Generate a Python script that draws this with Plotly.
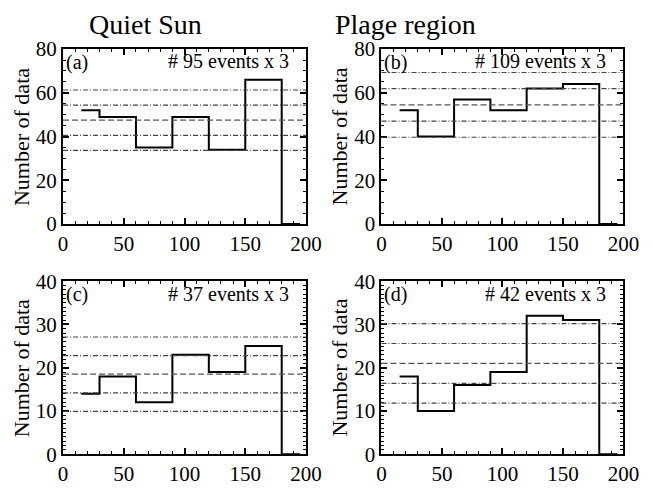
import plotly.graph_objects as go

# ---- data ----
angle_centers = [15, 45, 75, 105, 135, 165, 195]
counts_a = [52, 49, 35, 49, 34, 66, 0]
counts_b = [52, 40, 57, 52, 62, 64, 0]
counts_c = [14, 18, 12, 23, 19, 25, 0]
counts_d = [18, 10, 16, 19, 32, 31, 0]

mean_a = 47.5
sig_lines_a = [33.7, 40.6, 54.4, 61.3]
mean_b = 54.5
sig_lines_b = [39.7, 47.1, 61.9, 69.3]
mean_c = 18.5
sig_lines_c = [9.9, 14.2, 22.8, 27.1]
mean_d = 21.0
sig_lines_d = [11.8, 16.4, 25.6, 30.2]

panel_labels = ["(a)", "(b)", "(c)", "(d)"]
event_labels = ["# 95 events x 3", "# 109 events x 3", "# 37 events x 3", "# 42 events x 3"]
column_titles = ["Quiet Sun", "Plage region"]
y_title = "Number of data"

W, H = 653, 491
FONT = "Liberation Serif"

# pixel boxes (left, right, top, bottom)
boxes = [(60, 311, 39, 223), (389, 639, 39, 223), (60, 311, 283, 465), (389, 639, 283, 465)]
yranges = [80, 80, 40, 40]
ydticks = [20, 20, 10, 10]
yminor = [5, 5, 1, 1]

counts = [counts_a, counts_b, counts_c, counts_d]
means = [mean_a, mean_b, mean_c, mean_d]
sigs = [sig_lines_a, sig_lines_b, sig_lines_c, sig_lines_d]

fig = go.Figure()
layout = dict(width=W, height=H, margin=dict(l=0, r=0, t=0, b=0),
              paper_bgcolor="white", plot_bgcolor="white", showlegend=False,
              font=dict(family=FONT, color="black"))
shapes = []
annotations = []

for i in range(4):
    l, r, t, b = boxes[i]
    xn = "" if i == 0 else str(i + 1)
    xa = "xaxis" + xn
    ya = "yaxis" + xn
    layout[xa] = dict(domain=[l / W, r / W], range=[0, 200], anchor="y" + xn,
                      showgrid=False, zeroline=False, showline=True, linewidth=2,
                      linecolor="black", mirror="ticks", ticks="inside", ticklen=6,
                      tickwidth=1.5, tickcolor="black", dtick=50, tick0=0,
                      tickfont=dict(family=FONT, size=21, color="black"),
                      minor=dict(ticks="inside", ticklen=3, dtick=10, tickcolor="black", tickwidth=1),
                      fixedrange=True)
    layout[ya] = dict(domain=[1 - b / H, 1 - t / H], range=[0, yranges[i]], anchor="x" + xn,
                      showgrid=False, zeroline=False, showline=True, linewidth=2,
                      linecolor="black", mirror="ticks", ticks="inside", ticklen=6,
                      tickwidth=1.5, tickcolor="black", dtick=ydticks[i], tick0=0,
                      tickfont=dict(family=FONT, size=21, color="black"),
                      minor=dict(ticks="inside", ticklen=3, dtick=yminor[i], tickcolor="black", tickwidth=1),
                      fixedrange=True)
    # histogram
    fig.add_trace(go.Scatter(x=angle_centers, y=counts[i], mode="lines",
                             line=dict(shape="hvh", color="black", width=2),
                             xaxis="x" + xn, yaxis="y" + xn, hoverinfo="skip"))
    # mean and sigma lines
    shapes.append(dict(type="line", xref="x" + xn + " domain", yref="y" + xn,
                       x0=0, x1=1, y0=means[i], y1=means[i],
                       line=dict(color="#555555", width=1.3, dash="6px,3px")))
    for s in sigs[i]:
        shapes.append(dict(type="line", xref="x" + xn + " domain", yref="y" + xn,
                           x0=0, x1=1, y0=s, y1=s,
                           line=dict(color="#444444", width=1.2, dash="5px,2px,1px,2px")))
    # labels
    annotations.append(dict(text=panel_labels[i], xref="paper", yref="paper",
                            x=(l + 2) / W, y=1 - (t + 14) / H, xanchor="left", yanchor="middle",
                            showarrow=False, borderpad=0, font=dict(family=FONT, size=20, color="black")))
    annotations.append(dict(text=event_labels[i], xref="paper", yref="paper",
                            x=(r - 17) / W, y=1 - (t + 13) / H, xanchor="right", yanchor="middle",
                            showarrow=False, borderpad=0, font=dict(family=FONT, size=20, color="black")))
    annotations.append(dict(text=y_title, xref="paper", yref="paper",
                            x=(l - 43) / W, y=1 - ((t + b) / 2) / H, xanchor="center", yanchor="middle",
                            textangle=-90, showarrow=False, borderpad=0,
                            font=dict(family=FONT, size=22, color="black")))

annotations.append(dict(text=column_titles[0], xref="paper", yref="paper", x=145 / W, y=1 - 13 / H,
                        xanchor="center", yanchor="middle", showarrow=False, borderpad=0,
                        font=dict(family=FONT, size=28, color="black")))
annotations.append(dict(text=column_titles[1], xref="paper", yref="paper", x=414 / W, y=1 - 13 / H,
                        xanchor="center", yanchor="middle", showarrow=False, borderpad=0,
                        font=dict(family=FONT, size=28, color="black")))

layout["shapes"] = shapes
layout["annotations"] = annotations
fig.update_layout(**layout)
fig.write_html("out.html", config={"displayModeBar": False},
               post_script="document.body.style.margin='0';document.body.style.overflow='hidden';")
